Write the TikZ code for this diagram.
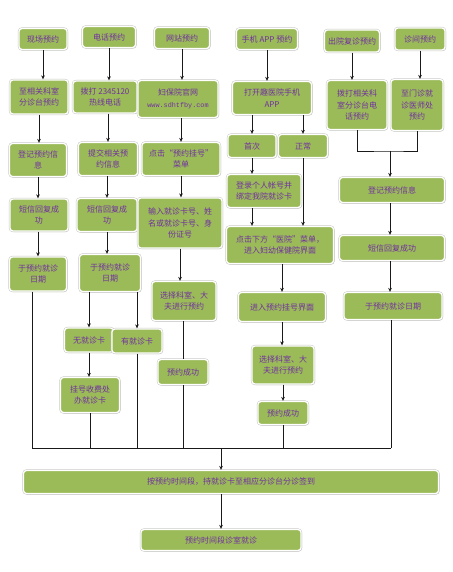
\documentclass[tikz,border=0pt]{standalone}
\usepackage{fontspec}
\usepackage{xcolor}
\usepackage{tikz}
\usetikzlibrary{positioning,arrows.meta,shadows}
\newfontfamily\cjk{Noto Sans CJK SC}
\newfontfamily\urlfont{Liberation Mono}
\definecolor{boxgreen}{RGB}{155,187,89}
\definecolor{txtpurple}{RGB}{112,48,160}
\definecolor{rimgray}{RGB}{196,198,192}
\definecolor{ink}{RGB}{25,25,25}
\tikzset{
  box/.style={fill=boxgreen, draw=white, line width=1.3pt, rounded corners=3pt,
    drop shadow={shadow xshift=1pt, shadow yshift=-1pt, fill=gray!70, opacity=0.5},
    preaction={draw=rimgray, line width=2.2pt},
    align=center, inner sep=1pt, text=txtpurple,
    font=\cjk\fontsize{8}{11.5}\selectfont},
  sz/.style 2 args={minimum width=#1pt, minimum height=#2pt},
  flow/.style={-{Stealth[length=4pt,width=3.6pt]}, line width=0.8pt, draw=ink},
  link/.style={line width=0.8pt, draw=ink},
}

\begin{document}
\begin{tikzpicture}[x=1pt, y=-1pt]
  \useasboundingbox (0,0) rectangle (452,572);
  \node[box, sz={48}{21}] (xc1) at (43,39) {现场预约};
  \node[box, sz={53}{21}] (dh1) at (109,37) {电话预约};
  \node[box, sz={55}{21}] (wz1) at (182,38) {网站预约};
  \node[box, sz={61}{21}] (app1) at (267,39) {手机 APP 预约};
  \node[box, sz={55}{22}] (cy1) at (352,41) {出院复诊预约};
  \node[box, sz={50}{22}] (zj1) at (420,39) {诊间预约};

  \node[box, sz={58}{34}] (xc2) at (39,97) {至相关科室\\分诊台预约};
  \node[box, sz={64}{32}] (dh2) at (105,97) {拨打 2345120\\热线电话};
  \node[box, sz={80}{37}] (wz2) at (178,99) {妇保院官网\\{\urlfont\fontsize{6.8}{11.5}\selectfont www.sdhtfby.com}};
  \node[box, sz={79}{33}] (app2) at (272,98) {打开趣医院手机\\APP};
  \node[box, sz={60}{49}] (cy2) at (357,105) {拨打相关科\\室分诊台电\\话预约};
  \node[box, sz={52}{51}] (zj2) at (417,105) {至门诊就\\诊医师处\\预约};

  \node[box, sz={57}{33}] (xc3) at (38,160) {登记预约信\\息};
  \node[box, sz={59}{33}] (dh3) at (108,159) {提交相关预\\约信息};
  \node[box, sz={78}{33}] (wz3) at (181,159) {点击“预约挂号”\\菜单};
  \node[box, sz={48}{23}] (sc) at (252,146) {首次};
  \node[box, sz={49}{23}] (zc) at (303,146) {正常};

  \node[box, sz={58}{32}] (xc4) at (39,215) {短信回复成\\功};
  \node[box, sz={60}{33}] (dh4) at (107,215) {短信回复成\\功};
  \node[box, sz={84}{50}] (wz4) at (180,223) {输入就诊卡号、姓\\名或就诊卡号、身\\份证号};
  \node[box, sz={74}{33}] (dl) at (264,191) {登录个人帐号并\\绑定我院就诊卡};
  \node[box, sz={105}{25}] (rdj) at (392,190) {登记预约信息};

  \node[box, sz={57}{34}] (xc5) at (38,274) {于预约就诊\\日期};
  \node[box, sz={61}{37}] (dh5) at (110,273) {于预约就诊\\日期};
  \node[box, sz={64}{39}] (wz5) at (184,301) {选择科室、大\\夫进行预约};
  \node[box, sz={107}{37}] (djx) at (280,245) {点击下方“医院”菜单，\\进入妇幼保健院界面};
  \node[box, sz={105}{25}] (rdx) at (392,248) {短信回复成功};

  \node[box, sz={87}{29}] (jr) at (282,307) {进入预约挂号界面};
  \node[box, sz={98}{27}] (rry) at (393,306) {于预约就诊日期};

  \node[box, sz={49}{24}] (wk) at (89,340) {无就诊卡};
  \node[box, sz={50}{24}] (yk) at (137,341) {有就诊卡};
  \node[box, sz={50}{25}] (wz6) at (183,372) {预约成功};
  \node[box, sz={62}{38}] (xz) at (283,365) {选择科室、大\\夫进行预约};
  \node[box, sz={59}{35}] (gh) at (90,395) {挂号收费处\\办就诊卡};
  \node[box, sz={50}{23}] (cg) at (283,413) {预约成功};

  \node[box, sz={415}{23}] (bb) at (231,482) {按预约时间段，持就诊卡至相应分诊台分诊签到};
  \node[box, sz={160}{21}] (fin) at (221,540) {预约时间段诊室就诊};

  \coordinate (join) at (390,151);
  \coordinate (busl) at (32,448);
  \coordinate (busr) at (391,448);

  \draw[flow] (xc1.south) -- (xc1.south |- xc2.north);
  \draw[flow] (xc2.south) -- (xc2.south |- xc3.north);
  \draw[flow] (xc3.south) -- (xc3.south |- xc4.north);
  \draw[flow] (xc5.north |- xc4.south) -- (xc5.north);
  \draw[flow] (dh1.south) -- (dh1.south |- dh2.north);
  \draw[flow] (dh3.north |- dh2.south) -- (dh3.north);
  \draw[flow] (dh4.north |- dh3.south) -- (dh4.north);
  \draw[flow] (dh4.south) -- (dh4.south |- dh5.north);
  \draw[flow] (wk.north |- dh5.south) -- (wk.north);
  \draw[flow] (yk.north |- dh5.south) -- (yk.north);
  \draw[flow] (wk.south) -- (wk.south |- gh.north);
  \draw[flow] (wz1.south) -- (wz1.south |- wz2.north);
  \draw[flow] (wz3.north |- wz2.south) -- (wz3.north);
  \draw[flow] (wz3.south) -- (wz3.south |- wz4.north);
  \draw[flow] (wz4.south) -- (wz4.south |- wz5.north);
  \draw[link] (wz5.south -| wz6.north) -- (wz6.north);
  \draw[flow] (app1.south) -- (app1.south |- app2.north);
  \draw[flow] (sc.north |- app2.south) -- (sc.north);
  \draw[flow] (zc.north |- app2.south) -- (zc.north);
  \draw[flow] (sc.south) -- (sc.south |- dl.north);
  \draw[flow] (sc.south |- dl.south) -- (sc.south |- djx.north);
  \draw[flow] (zc.south) -- (zc.south |- djx.north);
  \draw[flow] (jr.north |- djx.south) -- (jr.north);
  \draw[flow] (jr.south) -- (jr.south |- xz.north);
  \draw[flow] (xz.south) -- (xz.south |- cg.north);
  \draw[flow] (cy1.south) -- (cy1.south |- cy2.north);
  \draw[flow] (zj1.south) -- (zj1.south |- zj2.north);
  \draw[link] (cy2.south) |- (join) -| (zj2.south);
  \draw[flow] (join) -- (join |- rdj.north);
  \draw[flow] (join |- rdj.south) -- (join |- rdx.north);
  \draw[flow] (join |- rdx.south) -- (join |- rry.north);

  \draw[link] (busl) -- (busr);
  \draw[link] (xc5.south -| busl) -- (busl);
  \draw[link] (gh.south) -- (gh.south |- busl);
  \draw[link] (yk.south) -- (yk.south |- busl);
  \draw[link] (wz6.south) -- (wz6.south |- busl);
  \draw[link] (cg.south) -- (cg.south |- busl);
  \draw[link] (rry.south -| busr) -- (busr);
  \draw[flow] (fin.north |- busl) -- (fin.north |- bb.north);
  \draw[flow] (fin.north |- bb.south) -- (fin.north);
\end{tikzpicture}
\end{document}
